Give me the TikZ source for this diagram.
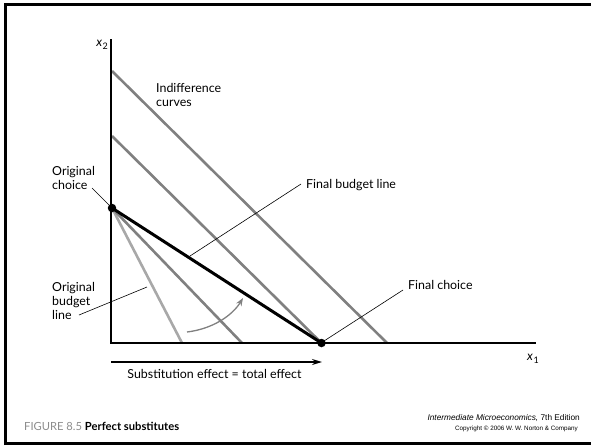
\documentclass[tikz,border=0pt]{standalone}
\usepackage{fontspec}
\setmainfont{Lato}
\newfontfamily\arialfont{Liberation Sans}
\usetikzlibrary{arrows.meta}
\definecolor{icgray}{HTML}{808080}
\definecolor{obgray}{HTML}{A8A8A8}
\definecolor{figgray}{HTML}{8C8C8C}
\begin{document}
\begin{tikzpicture}[x=1pt,y=-1pt,
  lbl/.style={font=\fontsize{12.4}{14}\selectfont, inner sep=0pt, align=left},
  axis/.style={line width=2pt, black},
  icurve/.style={line width=2.6pt, icgray},
  obline/.style={line width=2.6pt, obgray},
  fbline/.style={line width=3pt, black},
  leader/.style={line width=0.6pt, black},
  choice/.style={circle, fill=black, inner sep=0pt, minimum size=8.5pt},
  lnote/.style={inner sep=0pt, anchor=base east, font=\arialfont}
]
\useasboundingbox (0,0) rectangle (591,445);
% frame
\draw[line width=3pt] (5,445) -- (5,4.5) -- (591,4.5);
\draw[line width=3pt] (5,443.5) -- (591,443.5);

% key points
\coordinate (O) at (111,343);
\coordinate (ytop) at (111,39);
\coordinate (xend) at (536,343);
\coordinate (A) at (112,208);
\coordinate (F) at (321.5,343);
\coordinate (ic1a) at (112,71);
\coordinate (ic1b) at (387,343);
\coordinate (ic2a) at (112,136);
\coordinate (ic3b) at (242,343);
\coordinate (obb) at (182,343);

% lines
\draw[obline] (A) -- (obb);
\draw[icurve] (A) -- (ic3b);
\draw[icurve] (ic2a) -- (F);
\draw[icurve] (ic1a) -- (ic1b);
\draw[fbline] (A) -- (F);
\draw[axis] (ytop) -- (O) -- (xend);

\node[choice] (oc) at (A) {};
\node[choice] (fc) at (F) {};

% axis labels
\node[lbl, anchor=base east, font=\fontsize{12.5}{14}\selectfont] (x2) at (108,46) {\itshape x\kern0.5pt\raisebox{-3pt}{\normalfont\fontsize{9}{10}\selectfont 2}};
\node[lbl, anchor=base west, font=\fontsize{12.5}{14}\selectfont] (x1) at (527,360) {\itshape x\kern0.5pt\raisebox{-3pt}{\normalfont\fontsize{9}{10}\selectfont 1}};

% labels
\node[lbl, anchor=north west] (ind) at (156,83) {Indifference\\curves};
\node[lbl, anchor=north west] (ochoice) at (52,166) {Original\\choice};
\node[lbl, anchor=north west] (obud) at (52,282) {Original\\budget\\line};
\node[lbl, anchor=base west] (fbud) at (306,188) {Final budget line};
\node[lbl, anchor=base west] (fch) at (408,289) {Final choice};

% leaders
\coordinate (l1a) at (92,188);  \coordinate (l1b) at (109,205);
\coordinate (l2a) at (301,184); \coordinate (l2b) at (190,256);
\coordinate (l3a) at (79,315);  \coordinate (l3b) at (147,287);
\coordinate (l4a) at (403,290); \coordinate (l4b) at (324,341);
\draw[leader] (l1a) -- (l1b);
\draw[leader] (l2a) -- (l2b);
\draw[leader] (l3a) -- (l3b);
\draw[leader] (l4a) -- (l4b);

% rotation arrow
\coordinate (r1) at (187,332);
\coordinate (r2) at (243,298);
\draw[line width=1.3pt, icgray, -{Stealth[length=8pt,width=6pt]}] (r1) .. controls (212,329) and (232,316) .. (r2);

% effect arrow
\coordinate (e1) at (111,362);
\coordinate (e2) at (322,362);
\draw[line width=1.3pt, -{Stealth[length=10pt,width=6pt]}] (e1) -- (e2);
\node[lbl, anchor=base] (eff) at (214.5,378) {Substitution effect = total effect};

% caption
\node[lbl, anchor=base west, font=\fontsize{11.2}{13}\selectfont] (cap) at (24,430) {\textcolor{figgray}{FIGURE 8.5} \textbf{Perfect substitutes}};
\node[lnote, font=\arialfont\fontsize{8.3}{10}\selectfont] (book) at (580,420) {\itshape Intermediate Microeconomics,\upshape{} 7th Edition};
\node[lnote, font=\arialfont\fontsize{6.3}{7}\selectfont] (copy) at (578,430) {Copyright \textcopyright{} 2006 W. W. Norton \& Company};
\end{tikzpicture}
\end{document}
